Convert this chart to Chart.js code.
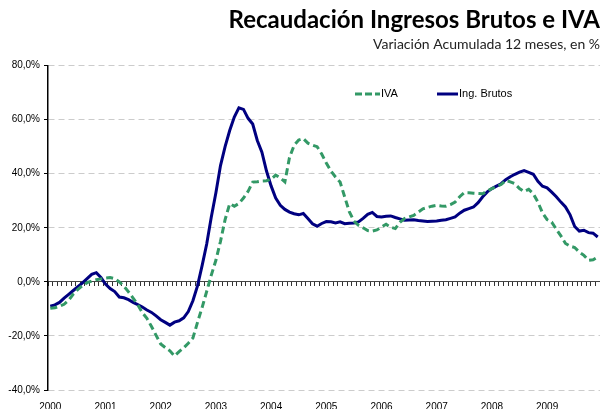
<!DOCTYPE html>
<html>
<head>
<meta charset="utf-8">
<script src="https://cdn.jsdelivr.net/npm/chart.js@4/dist/chart.umd.min.js"></script>
<style>
  html, body { margin: 0; padding: 0; background: #fff; }
  #wrap { width: 600px; height: 409px; }
</style>
</head>
<body>
<div id="wrap"><canvas id="c" width="600" height="409"></canvas></div>
<script>
var years = ["2000", "2001", "2002", "2003", "2004", "2005", "2006", "2007", "2008", "2009"];

// IVA, var. acumulada 12 meses (%), mensual
var iva = [
  -9.8, -9.6, -9.0, -8.3, -6.8, -4.5, -2.8, -1.4, -0.3, 0.3, 0.8, 1.1,
  1.4, 1.6, 1.2, 0.0, -1.6, -3.7, -6.0, -8.4, -11.4, -13.5, -16.5, -19.8,
  -23.0, -24.3, -25.5, -27.4, -25.8, -24.4, -22.7, -20.8, -15.0, -9.5, -3.5, 2.5,
  8.0, 15.0, 23.0, 28.9, 28.0, 29.0, 31.0, 33.5, 36.9, 37.0, 37.3, 37.4,
  38.0, 39.5, 38.5, 37.0, 46.0, 50.5, 52.5, 53.0, 51.3, 50.6, 50.0, 47.3,
  44.0, 41.0, 38.8, 36.9, 31.4, 26.0, 22.5, 20.9, 20.0, 19.0, 18.8, 19.2,
  20.3, 21.3, 20.2, 19.7, 22.0, 23.4, 24.0, 24.6, 25.8, 27.0, 27.5, 28.0,
  28.3, 28.1, 28.0, 28.6, 29.5, 31.5, 33.0, 33.0, 32.8, 32.7, 32.6, 33.6,
  34.5, 35.3, 36.0, 37.5, 37.0, 36.3, 34.5, 33.4, 34.2, 32.6, 29.5, 25.5,
  23.0, 22.1, 19.5, 17.0, 14.2, 13.2, 12.7, 11.0, 9.8, 8.0, 8.2, 9.2
];

// Ingresos Brutos, var. acumulada 12 meses (%), mensual
var ingBrutos = [
  -9.0, -8.5, -7.6, -6.0, -4.6, -3.2, -1.8, -0.4, 1.2, 2.8, 3.4, 1.6,
  -0.8, -2.5, -3.6, -5.6, -5.9, -6.6, -7.6, -8.4, -9.3, -10.4, -11.3, -12.6,
  -14.0, -15.0, -16.0, -14.9, -14.4, -13.3, -11.0, -7.0, -1.5, 6.0, 14.0, 24.0,
  33.0, 43.0, 50.0, 56.0, 61.0, 64.4, 63.8, 60.5, 58.4, 52.3, 48.0, 41.0,
  35.5, 31.0, 28.3, 26.8, 25.8, 25.2, 24.8, 25.3, 23.4, 21.5, 20.6, 21.6,
  22.3, 22.2, 21.8, 22.2, 21.5, 21.7, 21.8, 22.2, 23.5, 25.0, 25.7, 24.2,
  24.0, 24.3, 24.4, 23.8, 23.3, 22.8, 22.9, 23.0, 22.7, 22.5, 22.3, 22.4,
  22.5, 22.8, 23.0, 23.5, 24.0, 25.4, 26.5, 27.1, 27.7, 29.3, 31.5, 33.3,
  34.5, 35.4, 36.3, 37.8, 38.9, 39.8, 40.6, 41.2, 40.5, 39.8, 37.2, 35.4,
  34.8, 33.2, 31.5, 29.5, 27.7, 24.8, 20.5, 18.8, 19.1, 18.2, 18.0, 16.6
];

var yTicks = [-40, -20, 0, 20, 40, 60, 80];

var GREEN = "#339966";
var NAVY = "#000080";

// one category per month
var months = [];
years.forEach(function (y) {
  for (var m = 1; m <= 12; m++) months.push(y + "-" + (m < 10 ? "0" + m : m));
});

function pct(v) {
  return v.toFixed(1).replace(".", ",") + "%";
}

/* legend drawn inside the plot like the original */
var insideLegend = {
  id: "insideLegend",
  afterDraw: function (chart) {
    var ctx = chart.ctx;
    var y = 94;
    ctx.save();
    ctx.lineWidth = 3;
    ctx.strokeStyle = GREEN;
    ctx.setLineDash([7, 3]);
    ctx.beginPath(); ctx.moveTo(355, y); ctx.lineTo(380, y); ctx.stroke();
    ctx.setLineDash([]);
    ctx.strokeStyle = NAVY;
    ctx.beginPath(); ctx.moveTo(437, y); ctx.lineTo(458, y); ctx.stroke();
    ctx.fillStyle = "#000";
    ctx.font = "11px 'Liberation Sans', Arial, sans-serif";
    ctx.textBaseline = "middle";
    ctx.fillText("IVA", 381, y);
    ctx.fillText("Ing. Brutos", 459, y);
    ctx.restore();
  }
};

new Chart(document.getElementById("c"), {
  type: "line",
  data: {
    labels: months,
    datasets: [
      {
        label: "IVA",
        data: iva,
        borderColor: GREEN,
        borderWidth: 3,
        borderDash: [7, 4],
        pointRadius: 0,
        tension: 0,
        xAxisID: "x",
        yAxisID: "y"
      },
      {
        label: "Ing. Brutos",
        data: ingBrutos,
        borderColor: NAVY,
        borderWidth: 3,
        pointRadius: 0,
        tension: 0,
        xAxisID: "x",
        yAxisID: "y"
      }
    ]
  },
  options: {
    responsive: false,
    animation: false,
    layout: { padding: { left: 0, right: 0, top: 0, bottom: 0 } },
    plugins: {
      legend: { display: false },
      tooltip: { enabled: false },
      title: {
        display: true,
        text: "Recaudación Ingresos Brutos e IVA",
        align: "end",
        color: "#000",
        font: { family: "Lato", size: 24, weight: "bold" },
        padding: { top: 6, bottom: 1 }
      },
      subtitle: {
        display: true,
        text: "Variación Acumulada 12 meses, en %",
        align: "end",
        color: "#222",
        font: { family: "Lato", size: 14 },
        padding: { top: 0, bottom: 13 }
      }
    },
    scales: {
      x: {
        type: "category",
        position: "bottom",
        offset: true,
        grid: { display: false },
        border: { display: false },
        ticks: {
          autoSkip: false,
          maxRotation: 0,
          padding: 3,
          color: "#000",
          font: { family: "'Liberation Sans', Arial", size: 10 },
          callback: function (v, i) { return i % 12 === 0 ? years[i / 12] : null; }
        },
        afterFit: function (s) { s.height = 19; }
      },
      // the zero line with monthly tick marks
      x0: {
        type: "category",
        labels: months,
        position: { y: 0 },
        offset: true,
        grid: {
          offset: true,
          drawOnChartArea: false,
          drawTicks: true,
          tickLength: 4,
          tickWidth: 1,
          tickColor: "#333",
          tickBorderDash: []
        },
        border: { display: true, color: "#444", width: 1 },
        ticks: { display: false, autoSkip: false }
      },
      y: {
        min: -40,
        max: 80,
        afterBuildTicks: function (s) {
          s.ticks = yTicks.map(function (v) { return { value: v }; });
        },
        grid: {
          color: "#cccccc",
          lineWidth: 1,
          tickColor: "#000",
          tickLength: 4,
          tickBorderDash: []
        },
        border: { display: true, color: "#000", width: 1.5, dash: [6, 4] },
        ticks: {
          padding: 4,
          color: "#000",
          font: { family: "'Liberation Sans', Arial", size: 10 },
          callback: function (v) { return pct(v); }
        },
        afterFit: function (s) { s.width = 48; }
      }
    }
  },
  plugins: [insideLegend]
});
</script>
</body>
</html>
